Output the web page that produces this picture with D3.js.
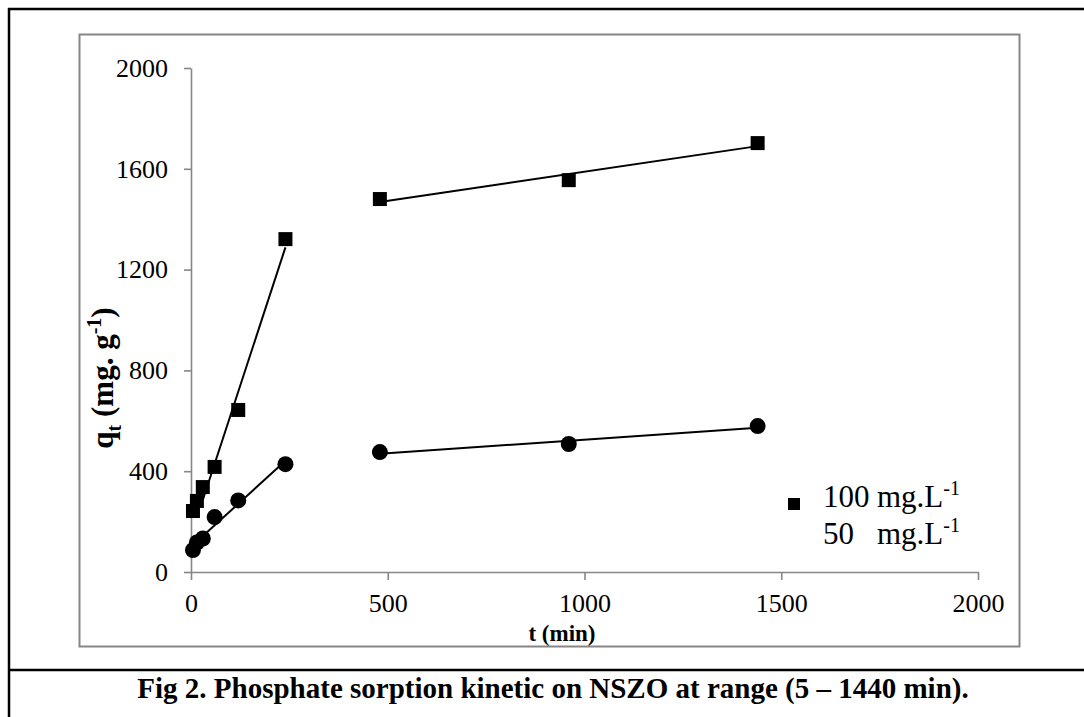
<!DOCTYPE html>
<html>
<head>
<meta charset="utf-8">
<script src="https://cdn.jsdelivr.net/npm/d3@7"></script>
<style>
body { margin: 0; background: #fff; }
svg { display: block; font-family: "Liberation Serif", "Times New Roman", serif; }
</style>
</head>
<body>
<svg id="chart" width="1084" height="717"></svg>
<script>
// contact time (min)
var times = [5, 15, 30, 60, 120, 240, 480, 960, 1440];
// qt for 100 mg/L (squares) and 50 mg/L (circles)
var q100 = [242, 282, 337, 417, 643, 1321, 1480, 1555, 1702];
var q50 = [87, 117, 133, 218, 284, 428, 476, 508, 579];
// index ranges used for the two linear trend segments
var fit100 = [[2, 5], [6, 8]];
var fit50 = [[0, 5], [6, 8]];
var xTicks = [0, 500, 1000, 1500, 2000];
var yTicks = [0, 400, 800, 1200, 1600, 2000];
var legendNames = ["100", "50"];

var svg = d3.select("#chart");
var axisCol = "#868686";

// outer box + caption separator
svg.append("line").attr("x1", 8).attr("y1", 9).attr("x2", 1084).attr("y2", 9)
    .attr("stroke", "#000").attr("stroke-width", 2.5);
svg.append("line").attr("x1", 9).attr("y1", 8).attr("x2", 9).attr("y2", 717)
    .attr("stroke", "#000").attr("stroke-width", 2.5);
svg.append("line").attr("x1", 8).attr("y1", 670).attr("x2", 1084).attr("y2", 670)
    .attr("stroke", "#000").attr("stroke-width", 2.5);

// chart area frame
svg.append("rect").attr("x", 79.5).attr("y", 34.5).attr("width", 940).attr("height", 612)
    .attr("fill", "none").attr("stroke", axisCol).attr("stroke-width", 2);

var x = d3.scaleLinear().domain([0, 2000]).range([191, 978]);
var y = d3.scaleLinear().domain([0, 2000]).range([572, 68]);

var xAxis = svg.append("g").attr("transform", "translate(0,572)")
    .call(d3.axisBottom(x).tickValues(xTicks).tickFormat(d3.format("d"))
        .tickSize(8).tickSizeOuter(0).tickPadding(14));
var yAxis = svg.append("g").attr("transform", "translate(191,0)")
    .call(d3.axisLeft(y).tickValues(yTicks).tickFormat(d3.format("d"))
        .tickSize(7).tickSizeOuter(0).tickPadding(16));

[xAxis, yAxis].forEach(function(g){
    g.selectAll("path, line").attr("stroke", axisCol).attr("stroke-width", 1.6);
    g.selectAll("text").attr("fill", "#000").style("font-size", "26px")
        .style("font-family", "'Liberation Serif', serif");
});

// trend lines (least squares on each segment)
var fitLine = function(xs, ys, a, b){
    var n = b - a + 1, sx = 0, sy = 0, sxx = 0, sxy = 0;
    for (var i = a; i <= b; i++){
        sx += xs[i]; sy += ys[i]; sxx += xs[i]*xs[i]; sxy += xs[i]*ys[i];
    }
    var m = (n*sxy - sx*sy) / (n*sxx - sx*sx);
    var c = (sy - m*sx) / n;
    return [[xs[a], m*xs[a] + c], [xs[b], m*xs[b] + c]];
};

var segs = [];
fit100.forEach(function(r){ segs.push(fitLine(times, q100, r[0], r[1])); });
fit50.forEach(function(r){ segs.push(fitLine(times, q50, r[0], r[1])); });

var line = d3.line().x(function(d){ return x(d[0]); }).y(function(d){ return y(d[1]); });
svg.selectAll("path.trend").data(segs).enter().append("path")
    .attr("class", "trend")
    .attr("d", line)
    .attr("fill", "none").attr("stroke", "#000").attr("stroke-width", 2);

// markers
var sq = 14;
svg.selectAll("rect.s100").data(times).enter().append("rect")
    .attr("class", "s100")
    .attr("x", function(d){ return x(d) - sq/2; })
    .attr("y", function(d, i){ return y(q100[i]) - sq/2; })
    .attr("width", sq).attr("height", sq).attr("fill", "#000");

svg.selectAll("circle.s50").data(times).enter().append("circle")
    .attr("class", "s50")
    .attr("cx", function(d){ return x(d); })
    .attr("cy", function(d, i){ return y(q50[i]); })
    .attr("r", 8).attr("fill", "#000");

// axis titles
var yt = svg.append("text").attr("transform", "translate(113,378) rotate(-90)")
    .attr("text-anchor", "middle").attr("font-weight", "bold").style("font-size", "31px");
yt.append("tspan").text("q");
yt.append("tspan").attr("dy", 8).style("font-size", "20px").text("t");
yt.append("tspan").attr("dy", -8).text(" (mg. g");
yt.append("tspan").attr("dy", -12).style("font-size", "20px").text("-1");
yt.append("tspan").attr("dy", 12).text(")");

svg.append("text").attr("x", 562).attr("y", 641).attr("text-anchor", "middle")
    .attr("font-weight", "bold").style("font-size", "23px").text("t (min)");

// legend
svg.append("rect").attr("x", 788).attr("y", 498).attr("width", 12).attr("height", 12).attr("fill", "#000");
legendNames.forEach(function(name, i){
    var t = svg.append("text").attr("x", 823).attr("y", 507 + i*37).style("font-size", "31px");
    t.append("tspan").text(name);
    t.append("tspan").attr("x", 877).text("mg.L");
    t.append("tspan").attr("dy", -12).style("font-size", "20px").text("-1");
});

// caption
svg.append("text").attr("x", 553).attr("y", 698).attr("text-anchor", "middle")
    .attr("font-weight", "bold").style("font-size", "29px")
    .text("Fig 2. Phosphate sorption kinetic on NSZO at range (5 \u2013 1440 min).");
</script>
</body>
</html>
